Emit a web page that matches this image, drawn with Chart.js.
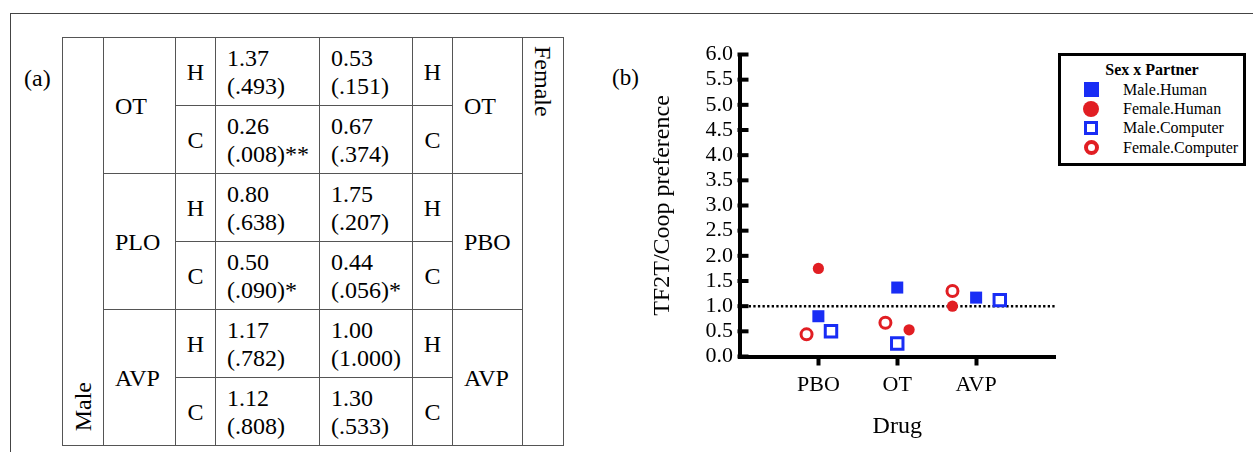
<!DOCTYPE html>
<html>
<head>
<meta charset="utf-8">
<script src="https://cdn.jsdelivr.net/npm/chart.js@4.4.0/dist/chart.umd.min.js"></script>
<style>
  body { margin: 0; width: 1253px; height: 452px; position: relative; overflow: hidden; background: #fff;
         font-family: 'Liberation Serif', 'Times New Roman', serif; color: #000; }
  #frame { position: absolute; left: 10px; top: 13px; width: 1260px; height: 460px;
           border-top: 1.5px solid #444; border-left: 1.5px solid #444; }
  .panel-tag { position: absolute; font-size: 24px; line-height: 28px; }
  #tbl { position: absolute; left: 62px; top: 37px; width: 501px; border-collapse: collapse; table-layout: fixed; }
  #tbl td { border: 1.5px solid #555; height: 67px; padding: 0; font-size: 24px; line-height: 28px; vertical-align: middle; }
  #tbl td.val { padding-left: 11px; }
  #tbl td.drug { padding-left: 11px; }
  #tbl td.hc { text-align: center; }
  #tbl td.male { vertical-align: bottom; text-align: center; padding-bottom: 8px; }
  #tbl td.female { vertical-align: top; text-align: center; padding-top: 8px; }
  .vert { display: inline-block; writing-mode: vertical-rl; }
  .male .vert { transform: rotate(180deg); }
  #chart { position: absolute; left: 590px; top: 0; }
  #legend { position: absolute; left: 1058px; top: 53px; width: 188px; height: 113px; box-sizing: border-box;
            border: 3px solid #000; background: #fff; }
  #legend .ttl { margin-top: 4px; text-align: center; font-weight: bold; font-size: 16px; line-height: 20px; }
  #legend .row { display: flex; align-items: center; height: 19.3px; font-size: 16px; }
  #legend .mk { width: 60px; display: flex; justify-content: center; align-items: center; }
  #legend .lbl { margin-left: 2px; }
</style>
</head>
<body>
<div id="frame"></div>
<div class="panel-tag" style="left:24px; top:64px;">(a)</div>
<table id="tbl">
  <colgroup>
    <col style="width:41px"><col style="width:72px"><col style="width:40px"><col style="width:104px">
    <col style="width:93px"><col style="width:40px"><col style="width:70px"><col style="width:41px">
  </colgroup>
  <tbody id="tbody"></tbody>
</table>
<div class="panel-tag" style="left:612px; top:64px; font-size:23px;">(b)</div>
<canvas id="chart" width="663" height="452"></canvas>
<div id="legend"></div>

<script>
// categories (order on the x axis)
const drugs = ['PBO', 'OT', 'AVP'];

// TF2T/Coop preference per drug
const maleHuman = [0.80, 1.37, 1.17];
const femaleHuman = [1.75, 0.53, 1.00];
const maleComputer = [0.50, 0.26, 1.12];
const femaleComputer = [0.44, 0.67, 1.30];

// sideways jitter inside each drug group (category units)
const maleHumanJitter = [0, 0, 0];
const femaleHumanJitter = [0, 0.15, -0.3];
const maleComputerJitter = [0.16, 0, 0.3];
const femaleComputerJitter = [-0.15, -0.15, -0.3];

// p values shown in the table
const maleHumanP = ['.638', '.493', '.782'];
const maleComputerP = ['.090', '.008', '.808'];
const femaleHumanP = ['.207', '.151', '1.000'];
const femaleComputerP = ['.056', '.374', '.533'];

// table rows: OT, PBO, AVP
const tableOrder = [1, 0, 2];
const maleTableDrugs = ['PLO', 'OT', 'AVP'];
const femaleTableDrugs = ['PBO', 'OT', 'AVP'];

const yMin = 0;
const yMax = 6;
const yStep = 0.5;
const refValue = 1;

const serif = "'Liberation Serif', 'Times New Roman', serif";
const blue = 'rgb(25, 45, 245)';
const red = 'rgb(225, 30, 35)';

//table (a)
const stars = p => (parseFloat(p) < 0.01 ? '**' : parseFloat(p) < 0.1 ? '*' : '');
const cell = (v, p) => `<td class="val">${v.toFixed(2)}<br>(${p})${stars(p)}</td>`;

let rows = '';
tableOrder.forEach((d, k) => {
  rows += '<tr>';
  if (k === 0) rows += '<td class="male" rowspan="6"><span class="vert">Male</span></td>';
  rows += `<td class="drug" rowspan="2">${maleTableDrugs[d]}</td><td class="hc">H</td>`;
  rows += cell(maleHuman[d], maleHumanP[d]) + cell(femaleHuman[d], femaleHumanP[d]);
  rows += `<td class="hc">H</td><td class="drug" rowspan="2">${femaleTableDrugs[d]}</td>`;
  if (k === 0) rows += '<td class="female" rowspan="6"><span class="vert">Female</span></td>';
  rows += '</tr><tr><td class="hc">C</td>';
  rows += cell(maleComputer[d], maleComputerP[d]) + cell(femaleComputer[d], femaleComputerP[d]);
  rows += '<td class="hc">C</td></tr>';
});
document.getElementById('tbody').innerHTML = rows;

//chart (b)
Chart.defaults.font.family = serif;
Chart.defaults.color = '#000';

const toPoints = (vals, jit) => vals.map((v, i) => ({ x: i + 1 + jit[i], y: v }));

const datasets = [
  { label: 'Male.Human', data: toPoints(maleHuman, maleHumanJitter), pointStyle: 'rect',
    pointRadius: 8.5, backgroundColor: blue, borderColor: blue, borderWidth: 0 },
  { label: 'Female.Human', data: toPoints(femaleHuman, femaleHumanJitter), pointStyle: 'circle',
    pointRadius: 5.6, backgroundColor: red, borderColor: red, borderWidth: 0 },
  { label: 'Male.Computer', data: toPoints(maleComputer, maleComputerJitter), pointStyle: 'rect',
    pointRadius: 8.1, backgroundColor: '#fff', borderColor: blue, borderWidth: 3 },
  { label: 'Female.Computer', data: toPoints(femaleComputer, femaleComputerJitter), pointStyle: 'circle',
    pointRadius: 5.5, backgroundColor: '#fff', borderColor: red, borderWidth: 3 },
  { type: 'line', label: '', order: 1, data: [{ x: 0, y: refValue }, { x: drugs.length + 1, y: refValue }],
    borderColor: '#000', borderWidth: 2.5, borderDash: [2.3, 2.3], pointRadius: 0, fill: false }
];

// y ticks point into the plot: stubs placed by the y scale
const innerTicks = {
  id: 'innerTicks',
  afterDatasetsDraw(chart) {
    const y = chart.scales.y;
    const left = chart.chartArea.left;
    const ctx = chart.ctx;
    ctx.save();
    ctx.fillStyle = '#000';
    y.ticks.forEach((t, i) => {
      const py = y.getPixelForTick(i);
      ctx.fillRect(left - 2, py - 2, 11, 4);
    });
    ctx.restore();
  }
};

const chart = new Chart(document.getElementById('chart'), {
  type: 'scatter',
  data: { datasets: datasets },
  plugins: [innerTicks],
  options: {
    responsive: false,
    animation: false,
    clip: false,
    layout: { padding: { left: 0, right: 198, top: 54.5, bottom: 0 } },
    plugins: { legend: { display: false }, tooltip: { enabled: false } },
    scales: {
      x: {
        type: 'linear',
        min: 0,
        max: drugs.length + 1,
        afterBuildTicks: s => { s.ticks = drugs.map((d, i) => ({ value: i + 1 })); },
        afterFit: s => { s.height = 95.5; },
        ticks: { callback: v => drugs[v - 1], font: { family: serif, size: 22 }, color: '#000', padding: 6.3, maxRotation: 0, autoSkip: false },
        grid: { display: true, drawOnChartArea: false, drawTicks: true, tickLength: 9, tickWidth: 4, tickColor: '#000' },
        border: { display: true, width: 4, color: '#000' },
        title: { display: true, text: 'Drug', font: { family: serif, size: 24 }, color: '#000', padding: { top: 4, bottom: 11 } }
      },
      y: {
        min: yMin,
        max: yMax,
        afterFit: s => { s.width = 149.5; },
        ticks: { stepSize: yStep, callback: v => v.toFixed(1), font: { family: serif, size: 22 }, color: '#000', padding: 6.5, autoSkip: false },
        grid: { display: true, drawOnChartArea: false, drawTicks: false, tickLength: 0 },
        border: { display: true, width: 4, color: '#000' },
        title: { display: true, text: 'TF2T/Coop preference', font: { family: serif, size: 24 }, color: '#000', padding: { top: 58, bottom: 0 } }
      }
    }
  }
});

//legend box built from the datasets
const legend = document.getElementById('legend');
let html = '<div class="ttl">Sex x Partner</div>';
chart.data.datasets.filter(ds => ds.label).forEach(ds => {
  const hollow = ds.backgroundColor === '#fff';
  const round = ds.pointStyle === 'circle';
  let style;
  if (!hollow) {
    const size = round ? 16 : 15;
    style = `width:${size}px;height:${size}px;background:${ds.backgroundColor};`;
  } else {
    const size = round ? 15 : 14;
    const bw = round ? 4 : 3.5;
    style = `width:${size}px;height:${size}px;box-sizing:border-box;border:${bw}px solid ${ds.borderColor};background:#fff;`;
  }
  if (round) style += 'border-radius:50%;';
  html += `<div class="row"><div class="mk"><div style="${style}"></div></div><div class="lbl">${ds.label}</div></div>`;
});
legend.innerHTML = html;
</script>
</body>
</html>
